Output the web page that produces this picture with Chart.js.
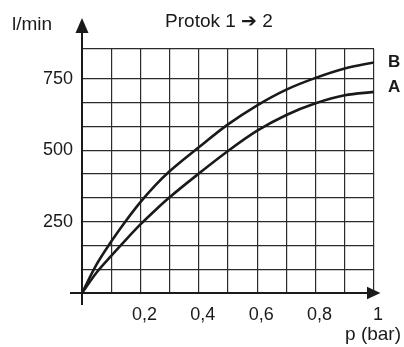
<!DOCTYPE html>
<html>
<head>
<meta charset="utf-8">
<script src="https://cdn.jsdelivr.net/npm/chart.js@4.4.1/dist/chart.umd.min.js"></script>
<style>
  html, body { margin: 0; padding: 0; background: #fff; }
  #wrap { width: 404px; height: 347px; }
</style>
</head>
<body>
<div id="wrap"><canvas id="c" width="404" height="347"></canvas></div>
<script>
// ---- data ----
const pressure = [0, 0.05, 0.1, 0.15, 0.2, 0.25, 0.3, 0.4, 0.5, 0.6, 0.7, 0.8, 0.9, 1.0];
const flowA    = [0, 72, 130, 186, 240, 289, 335, 418, 497, 568, 623, 664, 692, 704];
const flowB    = [0, 100, 180, 252, 318, 376, 426, 510, 590, 657, 712, 753, 786, 807];
const xTickValues = [0.2, 0.4, 0.6, 0.8, 1];
const xTickLabels = ['0,2', '0,4', '0,6', '0,8', '1'];
const yTickValues = [250, 500, 750];
const yTickLabels = ['250', '500', '750'];
const yGridStep = 250 / 3;
const yMax = 854;
const titleText = 'Protok 1 \u2794 2';
const yAxisTitle = 'l/min';
const xAxisTitle = 'p (bar)';
const seriesNames = ['A', 'B'];

const FONT = '"Liberation Sans", Arial, Helvetica, sans-serif';
const INK = '#1a1a1a';

const decor = {
  id: 'decor',
  afterDraw(chart) {
    const ctx = chart.ctx;
    const xs = chart.scales.x, ys = chart.scales.y;
    const x0 = xs.getPixelForValue(0), y0 = ys.getPixelForValue(0);
    const xr = xs.getPixelForValue(1);
    ctx.save();
    ctx.strokeStyle = INK; ctx.fillStyle = INK; ctx.lineWidth = 2;
    // y axis with arrow
    ctx.beginPath(); ctx.moveTo(x0, y0 + 12); ctx.lineTo(x0, 32); ctx.stroke();
    ctx.beginPath(); ctx.moveTo(x0, 18); ctx.lineTo(x0 - 6.5, 33); ctx.lineTo(x0 + 6.5, 33); ctx.closePath(); ctx.fill();
    // x axis with arrow
    ctx.beginPath(); ctx.moveTo(x0 - 12, y0); ctx.lineTo(xr - 6, y0); ctx.stroke();
    ctx.beginPath(); ctx.moveTo(xr + 6.5, y0); ctx.lineTo(xr - 7, y0 - 6.3); ctx.lineTo(xr - 7, y0 + 6.3); ctx.closePath(); ctx.fill();
    // texts
    ctx.textBaseline = 'alphabetic';
    ctx.font = '19px ' + FONT;
    ctx.textAlign = 'center';
    ctx.fillText(titleText, 219, 27);
    ctx.textAlign = 'left';
    ctx.fillText(yAxisTitle, 12, 30);
    ctx.textAlign = 'right';
    ctx.fillText(xAxisTitle, 401, 340);
    ctx.font = 'bold 17px ' + FONT;
    ctx.textAlign = 'left';
    const last = pressure.length - 1;
    ctx.fillText(seriesNames[1], 388, ys.getPixelForValue(flowB[last]) + 5);
    ctx.fillText(seriesNames[0], 388, ys.getPixelForValue(flowA[last]) + 0);
    ctx.restore();
  }
};

const ds = (label, vals) => ({
  label,
  data: pressure.map((p, i) => ({ x: p, y: vals[i] })),
  borderColor: INK,
  borderWidth: 2.6,
  pointRadius: 0,
  fill: false,
  cubicInterpolationMode: 'monotone'
});

new Chart(document.getElementById('c'), {
  type: 'line',
  data: { datasets: [ds(seriesNames[0], flowA), ds(seriesNames[1], flowB)] },
  options: {
    responsive: false,
    animation: false,
    devicePixelRatio: 1,
    layout: { padding: { left: 0, right: 30, top: 49, bottom: 0 } },
    plugins: { legend: { display: false }, tooltip: { enabled: false }, title: { display: false } },
    scales: {
      x: {
        type: 'linear', min: 0, max: 1,
        afterFit(s) { s.height = 54; },
        afterBuildTicks(s) {
          s.ticks = Array.from({ length: 11 }, (_, i) => ({ value: i / 10 }));
        },
        grid: { color: '#2b2b2b', lineWidth: 1.2, drawTicks: false },
        border: { display: false },
        ticks: {
          padding: 11, labelOffset: 4, maxRotation: 0, autoSkip: false,
          color: INK, font: { family: FONT, size: 18 },
          callback(v) {
            const i = xTickValues.findIndex(t => Math.abs(t - v) < 1e-6);
            return i >= 0 ? xTickLabels[i] : '';
          }
        }
      },
      y: {
        type: 'linear', min: 0, max: yMax,
        afterFit(s) { s.width = 82; },
        afterBuildTicks(s) {
          const t = Array.from({ length: 10 }, (_, i) => ({ value: i * yGridStep }));
          t.push({ value: yMax });
          s.ticks = t;
        },
        grid: { color: '#2b2b2b', lineWidth: 1.2, drawTicks: false },
        border: { display: false },
        ticks: {
          padding: 9, autoSkip: false,
          color: INK, font: { family: FONT, size: 18 },
          callback(v) {
            const i = yTickValues.findIndex(t => Math.abs(t - v) < 1e-6);
            return i >= 0 ? yTickLabels[i] : '';
          }
        }
      }
    }
  },
  plugins: [decor]
});
</script>
</body>
</html>
